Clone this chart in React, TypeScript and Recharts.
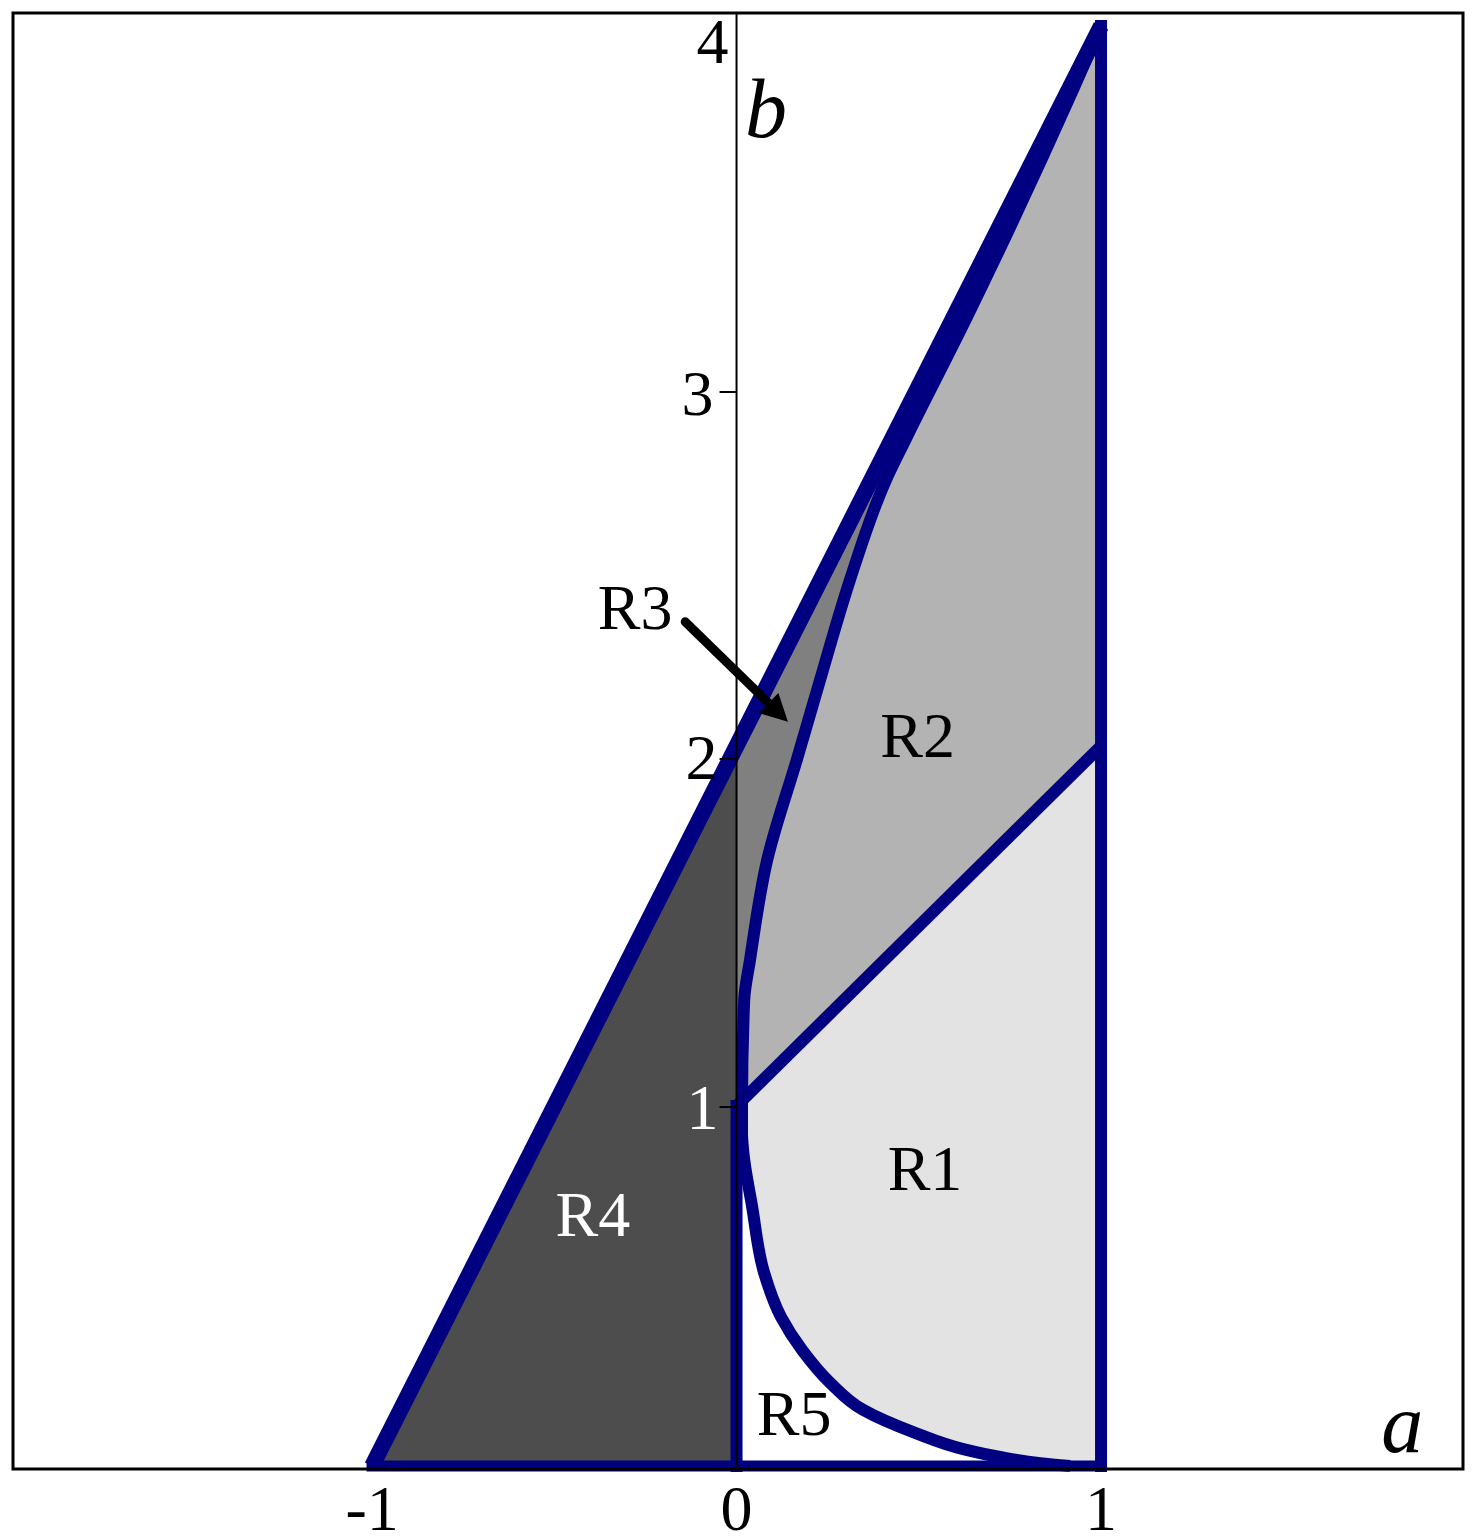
import React from 'react';
import { ComposedChart, Scatter, XAxis, YAxis, Curve } from 'recharts';

type P = [number, number];

// ---- axes ----
const X_DOMAIN: [number, number] = [-1.985, 1.993];
const Y_DOMAIN: [number, number] = [-0.0083, 4.036];
const xTicks = [-1, 0, 1];
const yTicks = [1, 2, 3, 4];
const yTickLabels = ['1', '2', '3', '4'];

// ---- boundary curves (a, b) ----
const upperCurve: P[] = [
  [0.015, 1.0], [0.021, 1.294], [0.037, 1.406], [0.084, 1.683], [0.166, 1.964],
  [0.229, 2.183], [0.311, 2.461], [0.41, 2.739], [0.466, 2.856], [0.628, 3.183],
  [0.924, 3.825], [1.0, 4.0],
];
const lowerCurve: P[] = [
  [0.015, 1.0], [0.015, 0.925], [0.018, 0.878], [0.043, 0.719], [0.075, 0.539],
  [0.122, 0.414], [0.18, 0.322], [0.257, 0.231], [0.347, 0.156], [0.49, 0.092],
  [0.622, 0.047], [0.723, 0.025], [0.833, 0.008], [0.915, 0.0],
];

// ---- straight boundaries / corners ----
const r4Corners: P[] = [[-1, 0], [0, 0], [0, 2]];
const r3Corners: P[] = [[0, 1], [0, 2], [1, 4]];
const r2Corners: P[] = [[1, 2], [0, 1]];
const r1Corners: P[] = [[0, 1], [1, 2], [1, 0]];
const topEdge: P[] = [[-1, 0], [1, 4]];
const bottomEdge: P[] = [[-1, 0], [1, 0]];
const rightEdge: P[] = [[1, 0], [1, 4]];
const zeroEdge: P[] = [[0, 0], [0, 1]];
const splitEdge: P[] = [[0, 1], [1, 2]];

// ---- annotations ----
const arrowR3: P[] = [[-0.141, 2.345], [0.141, 2.067]];
const regionNames = ['R1', 'R2', 'R3', 'R4', 'R5'];
const regionLabelPos: P[] = [[0.517, 0.824], [0.497, 2.029], [-0.278, 2.383], [-0.394, 0.697], [0.158, 0.144]];
const axisNames = ['a', 'b'];
const axisLabelPos: P[] = [[1.826, 0.039], [0.023, 3.692]];

// ---- styles ----
const FONT = '"Liberation Serif", "Times New Roman", serif';
const NAVY = '#000080';
const REGION_FILL: Record<string, string> = { R1: '#e3e3e3', R2: '#b3b3b3', R3: '#808080', R4: '#4d4d4d' };
const REGION_TEXT: Record<string, string> = { R4: '#ffffff' };
const Y_TICK_STYLE: Record<string, { dy: number; end: number; mark: boolean; fill: string; ly: number }> = {
  '1': { dy: 1, end: 18, mark: true, fill: '#ffffff', ly: 22 },
  '2': { dy: 13, end: 19, mark: true, fill: '#000000', ly: 20 },
  '3': { dy: 6, end: 23, mark: true, fill: '#000000', ly: 23 },
  '4': { dy: 16, end: 8, mark: false, fill: '#000000', ly: 21.5 },
};

const toData = (pts: P[]) => pts.map(([a, b]) => ({ a, b }));
const rev = (pts: P[]) => [...pts].reverse();

const r4Poly = r4Corners;
const r3Poly = [...r3Corners, ...rev(upperCurve)];
const r2Poly = [...upperCurve, ...r2Corners];
const r1Poly = [...r1Corners, ...rev(lowerCurve)];
const curvePath = [...rev(lowerCurve), ...upperCurve.slice(1)];
const frameCorners: P[] = [
  [X_DOMAIN[0], Y_DOMAIN[0]], [X_DOMAIN[1], Y_DOMAIN[0]],
  [X_DOMAIN[1], Y_DOMAIN[1]], [X_DOMAIN[0], Y_DOMAIN[1]],
];
const yAxisLine: P[] = [[0, Y_DOMAIN[0]], [0, Y_DOMAIN[1]]];

const pathOf = (pts: { x: number; y: number }[], close: boolean) =>
  pts.map((p, i) => `${i ? 'L' : 'M'}${p.x},${p.y}`).join(' ') + (close ? ' Z' : '');

const fillLine = (fill: string) => (props: any) => (
  <path d={pathOf(props.points || [], true)} fill={fill} stroke="none" />
);
const strokeLine = (stroke: string, width: number, cap: 'square' | 'round' | 'butt', close = false) =>
  (props: any) => (
    <path
      d={pathOf(props.points || [], close)}
      fill="none"
      stroke={stroke}
      strokeWidth={width}
      strokeLinecap={cap}
      strokeLinejoin={close ? 'miter' : 'round'}
    />
  );
const smoothLine = (stroke: string, width: number) => (props: any) => (
  <Curve
    points={props.points || []}
    type="monotoneY"
    fill="none"
    stroke={stroke}
    strokeWidth={width}
    strokeLinecap="butt"
    strokeLinejoin="round"
  />
);

const arrowLine = (props: any) => {
  const pts = props.points || [];
  if (pts.length < 2) return <g />;
  const [p0, p1] = pts;
  const dx = p1.x - p0.x;
  const dy = p1.y - p0.y;
  const len = Math.hypot(dx, dy) || 1;
  const ux = dx / len;
  const uy = dy / len;
  const headLen = 27;
  const headHalf = 14;
  const bx = p1.x - ux * headLen;
  const by = p1.y - uy * headLen;
  return (
    <g>
      <line x1={p0.x} y1={p0.y} x2={bx + ux * 3} y2={by + uy * 3} stroke="#000" strokeWidth={9} strokeLinecap="round" />
      <path
        d={`M${p1.x},${p1.y} L${bx - uy * headHalf},${by + ux * headHalf} L${bx + uy * headHalf},${by - ux * headHalf} Z`}
        fill="#000"
      />
    </g>
  );
};

const noShape = () => <g />;

const YTick = (props: any) => {
  const d = props.payload ?? props;
  const st = Y_TICK_STYLE[d.label] ?? { dy: 0, end: 18, mark: true, fill: '#000', ly: 21.5 };
  const cx = props.cx;
  const cy = props.cy + st.dy;
  return (
    <g>
      {st.mark ? <line x1={cx - 17} x2={cx} y1={cy} y2={cy} stroke="#000" strokeWidth={2} /> : null}
      <text x={cx - st.end} y={cy + st.ly} textAnchor="end" fontSize={64} fontFamily={FONT} fill={st.fill}>
        {d.label}
      </text>
    </g>
  );
};

const RegionLabel = (props: any) => {
  const d = props.payload ?? props;
  return (
    <text x={props.cx} y={props.cy + 21} textAnchor="middle" fontSize={64} fontFamily={FONT} fill={REGION_TEXT[d.name] ?? '#000'}>
      {d.name}
    </text>
  );
};

const AxisName = (props: any) => {
  const d = props.payload ?? props;
  return (
    <text
      x={props.cx}
      y={props.cy}
      textAnchor={d.name === 'a' ? 'middle' : 'start'}
      fontSize={84}
      fontStyle="italic"
      fontFamily={FONT}
      fill="#000"
    >
      {d.name}
    </text>
  );
};

const yTickData = yTicks.map((v, i) => ({ a: 0, b: v, label: yTickLabels[i] }));
const regionLabelData = regionNames.map((name, i) => ({ a: regionLabelPos[i][0], b: regionLabelPos[i][1], name }));
const axisNameData = axisNames.map((name, i) => ({ a: axisLabelPos[i][0], b: axisLabelPos[i][1], name }));

export default function App() {
  return (
    <div style={{ position: 'absolute', left: 0, top: 0, width: 1473, height: 1537, background: '#fff' }}>
      <ComposedChart width={1473} height={1537} margin={{ top: 13, right: 10, bottom: 0, left: 13 }}>
        <XAxis
          type="number"
          dataKey="a"
          domain={X_DOMAIN}
          ticks={xTicks}
          interval={0}
          height={68}
          axisLine={false}
          tickLine={false}
          tickSize={14}
          tickMargin={2}
          tick={{ fontSize: 64, fontFamily: FONT, fill: '#000' }}
        />
        <YAxis type="number" dataKey="b" domain={Y_DOMAIN} hide />

        {/* filled regions */}
        <Scatter data={toData(r4Poly)} line={fillLine(REGION_FILL.R4)} shape={noShape} isAnimationActive={false} legendType="none" />
        <Scatter data={toData(r3Poly)} line={fillLine(REGION_FILL.R3)} shape={noShape} isAnimationActive={false} legendType="none" />
        <Scatter data={toData(r2Poly)} line={fillLine(REGION_FILL.R2)} shape={noShape} isAnimationActive={false} legendType="none" />
        <Scatter data={toData(r1Poly)} line={fillLine(REGION_FILL.R1)} shape={noShape} isAnimationActive={false} legendType="none" />

        {/* blue boundaries */}
        <Scatter data={toData(zeroEdge)} line={strokeLine(NAVY, 12, 'square')} shape={noShape} isAnimationActive={false} legendType="none" />
        <Scatter data={toData(bottomEdge)} line={strokeLine(NAVY, 11, 'square')} shape={noShape} isAnimationActive={false} legendType="none" />
        <Scatter data={toData(splitEdge)} line={strokeLine(NAVY, 12, 'butt')} shape={noShape} isAnimationActive={false} legendType="none" />
        <Scatter data={toData(curvePath)} line={smoothLine(NAVY, 12)} shape={noShape} isAnimationActive={false} legendType="none" />
        <Scatter data={toData(rightEdge)} line={strokeLine(NAVY, 12, 'square')} shape={noShape} isAnimationActive={false} legendType="none" />
        <Scatter data={toData(topEdge)} line={strokeLine(NAVY, 16, 'butt')} shape={noShape} isAnimationActive={false} legendType="none" />

        {/* y axis and ticks */}
        <Scatter data={toData(yAxisLine)} line={strokeLine('#000', 2, 'butt')} shape={noShape} isAnimationActive={false} legendType="none" />
        <Scatter data={yTickData} shape={YTick} isAnimationActive={false} legendType="none" />

        {/* annotations */}
        <Scatter data={toData(arrowR3)} line={arrowLine} shape={noShape} isAnimationActive={false} legendType="none" />
        <Scatter data={regionLabelData} shape={RegionLabel} isAnimationActive={false} legendType="none" />
        <Scatter data={axisNameData} shape={AxisName} isAnimationActive={false} legendType="none" />

        {/* frame */}
        <Scatter data={toData(frameCorners)} line={strokeLine('#000', 3, 'square', true)} shape={noShape} isAnimationActive={false} legendType="none" />
      </ComposedChart>
    </div>
  );
}
